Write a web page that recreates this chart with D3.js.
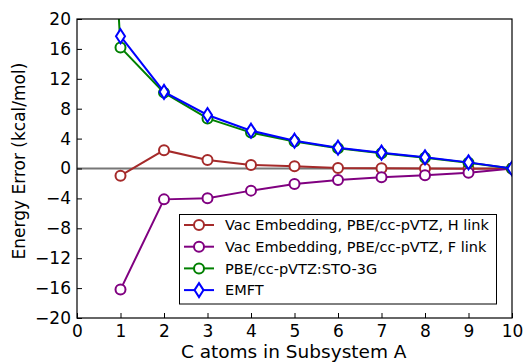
<!DOCTYPE html>
<html>
<head>
<meta charset="utf-8">
<script src="https://cdn.jsdelivr.net/npm/d3@7"></script>
<style>
  body { margin: 0; background: #fff; }
  text { font-family: "DejaVu Sans", sans-serif; fill: #000; }
</style>
</head>
<body>
<script>
// data
var atoms = [1, 2, 3, 4, 5, 6, 7, 8, 9, 10];
var hLink = [-0.96, 2.45, 1.15, 0.47, 0.3, 0.08, 0.03, 0.0, -0.03, 0];
var fLink = [-16.2, -4.13, -3.99, -2.96, -2.07, -1.54, -1.18, -0.91, -0.56, 0];
var stoX = [0, 1, 2, 3, 4, 5, 6, 7, 8, 9, 10];
var sto3g = [120, 16.2, 10.15, 6.7, 4.8, 3.6, 2.7, 2.05, 1.45, 0.78, 0];
var emft = [17.7, 10.25, 7.16, 5.06, 3.72, 2.78, 2.12, 1.49, 0.82, 0];
var xTicks = [0, 1, 2, 3, 4, 5, 6, 7, 8, 9, 10];
var yTicks = [-20, -16, -12, -8, -4, 0, 4, 8, 12, 16, 20];

var series = [
  { name: "Vac Embedding, PBE/cc-pVTZ, H link", x: atoms, y: hLink, color: "#a52a2a", marker: "o" },
  { name: "Vac Embedding, PBE/cc-pVTZ, F link", x: atoms, y: fLink, color: "#800080", marker: "o" },
  { name: "PBE/cc-pVTZ:STO-3G", x: stoX, y: sto3g, color: "#008000", marker: "o" },
  { name: "EMFT", x: atoms, y: emft, color: "#0000ff", marker: "d" }
];

var W = 523, H = 362;
var m = { left: 77, right: 11, top: 19, bottom: 44 };

var svg = d3.select("body").append("svg")
  .attr("width", W).attr("height", H);

var x = d3.scaleLinear().domain([0, 10]).range([m.left, W - m.right]);
var y = d3.scaleLinear().domain([-20, 20]).range([H - m.bottom, m.top]);

svg.append("defs").append("clipPath").attr("id", "clip")
  .append("rect")
  .attr("x", m.left).attr("y", m.top)
  .attr("width", W - m.left - m.right).attr("height", H - m.top - m.bottom);

// zero line
svg.append("line")
  .attr("x1", x(0)).attr("x2", x(10))
  .attr("y1", y(0)).attr("y2", y(0))
  .attr("stroke", "#777").attr("stroke-width", 2);

var plot = svg.append("g").attr("clip-path", "url(#clip)");
var line = d3.line().x(function(d) { return x(d[0]); }).y(function(d) { return y(d[1]); });

function drawMarker(g, type, cx, cy, color) {
  if (type === "d") {
    g.append("path")
      .attr("d", "M" + cx + "," + (cy - 7) + "L" + (cx + 4.5) + "," + cy +
                 "L" + cx + "," + (cy + 7) + "L" + (cx - 4.5) + "," + cy + "Z")
      .attr("fill", "#fff").attr("stroke", color).attr("stroke-width", 2);
  } else {
    g.append("circle").attr("cx", cx).attr("cy", cy).attr("r", 5)
      .attr("fill", "#fff").attr("stroke", color).attr("stroke-width", 2);
  }
}

series.forEach(function(s) {
  var pts = s.x.map(function(v, i) { return [v, s.y[i]]; });
  plot.append("path").datum(pts)
    .attr("d", line)
    .attr("fill", "none").attr("stroke", s.color).attr("stroke-width", 2);
  pts.forEach(function(p) {
    if (p[0] >= 0.5) drawMarker(plot, s.marker, x(p[0]), y(p[1]), s.color);
  });
});

// frame
svg.append("rect")
  .attr("x", m.left).attr("y", m.top)
  .attr("width", W - m.left - m.right).attr("height", H - m.top - m.bottom)
  .attr("fill", "none").attr("stroke", "#000").attr("stroke-width", 1.2);

// axes
var xAxis = svg.append("g").attr("transform", "translate(0," + y(-20) + ")")
  .call(d3.axisBottom(x).tickValues(xTicks).tickSizeInner(-5).tickSizeOuter(0).tickPadding(6.5).tickFormat(d3.format("d")));
var yAxis = svg.append("g").attr("transform", "translate(" + x(0) + ",0)")
  .call(d3.axisLeft(y).tickValues(yTicks).tickSizeInner(-5).tickSizeOuter(0).tickPadding(6).tickFormat(d3.format("d")));
[xAxis, yAxis].forEach(function(a) {
  a.select(".domain").remove();
  a.selectAll("text").style("font-size", "17px").attr("font-family", null);
  a.selectAll("line").attr("stroke", "#000");
});

// axis titles
svg.append("text")
  .attr("x", 293.7).attr("y", 358)
  .attr("text-anchor", "middle").style("font-size", "18.5px")
  .text("C atoms in Subsystem A");
svg.append("text")
  .attr("transform", "translate(24.5,161) rotate(-90)")
  .attr("text-anchor", "middle").style("font-size", "17px")
  .text("Energy Error (kcal/mol)");

// legend
var lg = svg.append("g");
lg.append("rect").attr("x", 179.5).attr("y", 214.5).attr("width", 317).attr("height", 89.5)
  .attr("fill", "#fff").attr("stroke", "#000").attr("stroke-width", 1);
series.forEach(function(s, i) {
  var cy = 225 + i * 21.7;
  lg.append("line").attr("x1", 184).attr("x2", 214).attr("y1", cy).attr("y2", cy)
    .attr("stroke", s.color).attr("stroke-width", 2);
  drawMarker(lg, s.marker, 199, cy, s.color);
  lg.append("text").attr("x", 225).attr("y", cy + 5.3)
    .style("font-size", "14.5px").text(s.name);
});
</script>
</body>
</html>
